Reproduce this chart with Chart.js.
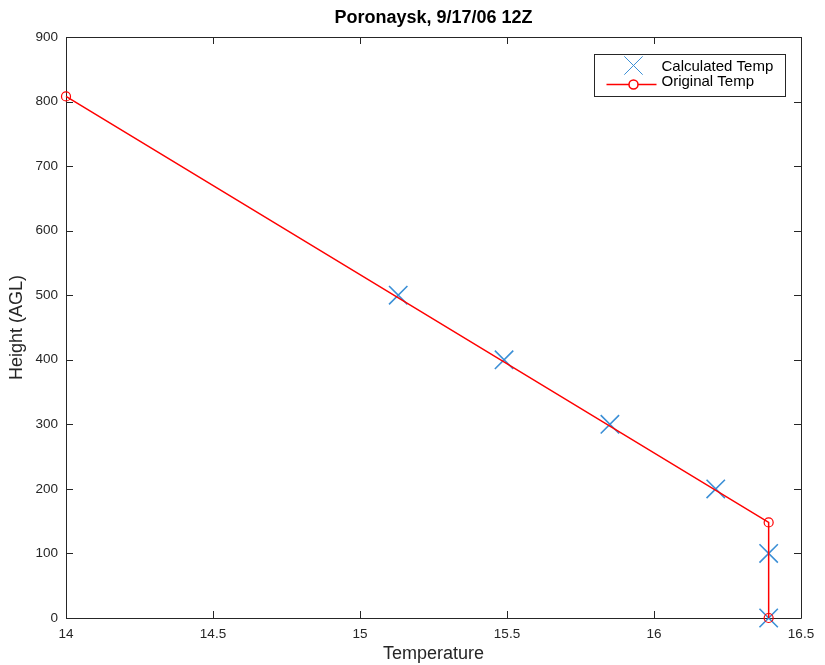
<!DOCTYPE html>
<html>
<head>
<meta charset="utf-8">
<script src="https://cdn.jsdelivr.net/npm/chart.js@4"></script>
<style>
  html, body { margin: 0; padding: 0; background: #ffffff; }
  #wrap { width: 825px; height: 665px; }
</style>
</head>
<body>
<div id="wrap"><canvas id="c" width="825" height="665"></canvas></div>
<script>
// Sounding profile: Poronaysk, 9/17/06 12Z
const xTicks = [14, 14.5, 15, 15.5, 16, 16.5];
const yTicks = [0, 100, 200, 300, 400, 500, 600, 700, 800, 900];

const calcTemp   = [15.13, 15.49, 15.85, 16.21, 16.39, 16.39];
const calcHeight = [500, 400, 300, 200, 100, 0];

const origTemp   = [14, 16.39, 16.39];
const origHeight = [808, 148, 0];

const FONT = '"Liberation Sans", Arial, Helvetica, sans-serif';
const AXIS_COLOR = '#262626';
const BLUE = '#3b8fd6';
const RED = '#ff0000';

const toPoints = (xs, ys) => xs.map((x, i) => ({ x: x, y: ys[i] }));

// Full box around the plot with inward tick marks on all four sides
const boxPlugin = {
  id: 'boxAxes',
  beforeDatasetsDraw(chart) {
    const { ctx, chartArea: a, scales } = chart;
    const len = 7;
    ctx.save();
    ctx.strokeStyle = AXIS_COLOR;
    ctx.lineWidth = 1;
    ctx.beginPath();
    ctx.rect(Math.round(a.left) + 0.5, Math.round(a.top) + 0.5,
             Math.round(a.right - a.left), Math.round(a.bottom - a.top));
    xTicks.forEach(v => {
      const px = Math.round(scales.x.getPixelForValue(v)) + 0.5;
      ctx.moveTo(px, a.bottom); ctx.lineTo(px, a.bottom - len);
      ctx.moveTo(px, a.top);    ctx.lineTo(px, a.top + len);
    });
    yTicks.forEach(v => {
      const py = Math.round(scales.y.getPixelForValue(v)) + 0.5;
      ctx.moveTo(a.left, py);  ctx.lineTo(a.left + len, py);
      ctx.moveTo(a.right, py); ctx.lineTo(a.right - len, py);
    });
    ctx.stroke();
    ctx.restore();
  }
};

// Legend box in the upper right corner of the axes
const legendPlugin = {
  id: 'boxLegend',
  afterDraw(chart) {
    const { ctx, chartArea: a } = chart;
    const calc = chart.data.datasets[0];
    const orig = chart.data.datasets[1];
    const w = 191, h = 42;
    const left = Math.round(a.right - 16 - w) + 0.5;
    const top = Math.round(a.top + 17) + 0.5;
    ctx.save();
    ctx.fillStyle = '#ffffff';
    ctx.strokeStyle = AXIS_COLOR;
    ctx.lineWidth = 1;
    ctx.fillRect(left, top, w, h);
    ctx.strokeRect(left, top, w, h);

    const symX = left + 39;
    const row1 = top + 11;
    const row2 = top + 30;

    ctx.strokeStyle = calc.borderColor;
    Chart.helpers.drawPoint(ctx, {
      pointStyle: calc.pointStyle, radius: calc.pointRadius,
      borderWidth: calc.pointBorderWidth, rotation: 0
    }, symX, row1);

    ctx.strokeStyle = orig.borderColor;
    ctx.lineWidth = orig.borderWidth;
    ctx.beginPath();
    ctx.moveTo(left + 12, row2);
    ctx.lineTo(left + 62, row2);
    ctx.stroke();
    Chart.helpers.drawPoint(ctx, {
      pointStyle: orig.pointStyle, radius: orig.pointRadius,
      borderWidth: orig.pointBorderWidth, rotation: 0
    }, symX, row2);

    ctx.fillStyle = '#000000';
    ctx.font = '15px ' + FONT;
    ctx.textBaseline = 'middle';
    ctx.textAlign = 'left';
    ctx.fillText(calc.label, left + 67, row1 + 1);
    ctx.fillText(orig.label, left + 67, row2 - 3);
    ctx.restore();
  }
};

new Chart(document.getElementById('c'), {
  type: 'scatter',
  data: {
    datasets: [
      {
        label: 'Calculated Temp',
        data: toPoints(calcTemp, calcHeight),
        showLine: false,
        pointStyle: 'crossRot',
        pointRadius: 13,
        pointHoverRadius: 13,
        pointBorderWidth: 1.6,
        borderColor: BLUE,
        backgroundColor: BLUE,
        clip: false,
        order: 2
      },
      {
        label: 'Original Temp',
        data: toPoints(origTemp, origHeight),
        showLine: true,
        borderColor: RED,
        borderWidth: 1.5,
        backgroundColor: 'rgba(0,0,0,0)',
        pointStyle: 'circle',
        pointRadius: 4.5,
        pointHoverRadius: 4.5,
        pointBorderWidth: 1.2,
        pointBorderColor: RED,
        pointBackgroundColor: 'rgba(0,0,0,0)',
        tension: 0,
        clip: false,
        order: 1
      }
    ]
  },
  options: {
    responsive: false,
    devicePixelRatio: 1,
    animation: false,
    events: [],
    layout: { padding: { left: 0, right: 24, top: 0, bottom: 0 } },
    plugins: {
      legend: { display: false },
      tooltip: { enabled: false },
      title: {
        display: true,
        fullSize: false,
        text: 'Poronaysk, 9/17/06 12Z',
        color: '#000000',
        font: { family: FONT, size: 18, weight: 'bold', lineHeight: '20px' },
        padding: { top: 8, bottom: 9 }
      }
    },
    scales: {
      x: {
        type: 'linear',
        min: 14,
        max: 16.5,
        afterFit(scale) { scale.height = 47; },
        afterBuildTicks(scale) { scale.ticks = xTicks.map(v => ({ value: v })); },
        grid: { display: false, drawTicks: false },
        border: { display: false },
        ticks: {
          color: AXIS_COLOR,
          font: { family: FONT, size: 13.5 },
          padding: 8,
          maxRotation: 0,
          autoSkip: false,
          callback: v => String(v)
        },
        title: {
          display: true,
          text: 'Temperature',
          color: AXIS_COLOR,
          font: { family: FONT, size: 18 },
          padding: { top: 0, bottom: 0 }
        }
      },
      y: {
        type: 'linear',
        min: 0,
        max: 900,
        afterFit(scale) { scale.width = 66; },
        afterBuildTicks(scale) { scale.ticks = yTicks.map(v => ({ value: v })); },
        grid: { display: false, drawTicks: false },
        border: { display: false },
        ticks: {
          color: AXIS_COLOR,
          font: { family: FONT, size: 13.5 },
          padding: 8,
          autoSkip: false,
          callback: v => String(v)
        },
        title: {
          display: true,
          text: 'Height (AGL)',
          color: AXIS_COLOR,
          font: { family: FONT, size: 18 },
          padding: { top: 6, bottom: 0 }
        }
      }
    }
  },
  plugins: [boxPlugin, legendPlugin]
});
</script>
</body>
</html>
